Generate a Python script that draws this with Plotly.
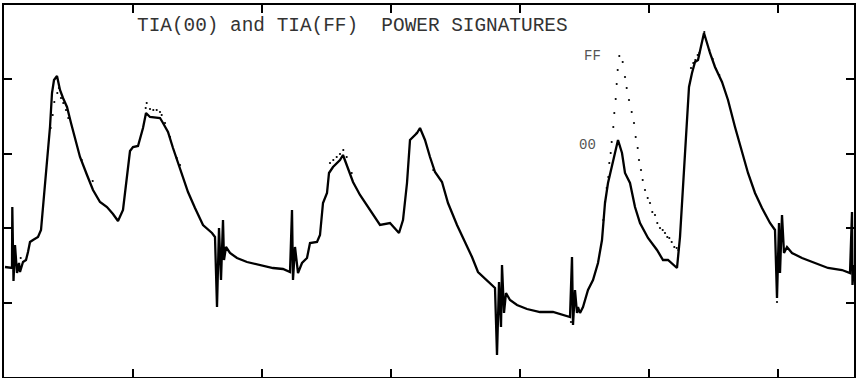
import plotly.graph_objects as go

# TIA(00) power trace: sample index vs level (arbitrary units)
tia00_x = [1, 8, 8.3, 9.5, 11, 13, 15, 16, 19, 22, 24, 26, 29, 34, 37, 39, 41, 44, 46, 48, 50, 53,
           56, 59, 63, 67, 71, 76, 83, 89, 96, 103, 109, 114, 119, 121, 124, 126, 129, 134, 139, 142,
           146, 156, 159, 164, 169, 174, 179, 184, 191, 199, 208, 211, 213, 215, 217, 219, 220, 222,
           226, 233, 243, 256, 269, 279, 286, 288, 289, 291, 294, 298, 303, 306, 313, 316, 319, 323,
           325, 329, 336, 339, 344, 349, 356, 366, 376, 386, 391, 395, 399, 403, 406, 409, 413, 416,
           421, 426, 431, 438, 444, 453, 459, 468, 474, 483, 491, 493, 495, 497, 498, 500, 502, 506,
           513, 523, 536, 549, 563, 566, 568, 569, 571, 573, 574, 576, 579, 584, 589, 594, 598, 601,
           604, 608, 611, 614, 618, 621, 626, 631, 636, 644, 653, 659, 664, 669, 673, 676, 679, 683,
           685, 688, 691, 694, 698, 700, 706, 711, 718, 724, 731, 738, 744, 751, 758, 766, 771, 773,
           775, 776, 778, 780, 783, 788, 798, 811, 824, 838, 846, 848, 848.5, 850]
tia00_y = [110, 109, 170, 96, 132, 104, 114, 105, 115, 117, 125, 135, 137, 140, 147, 170, 187, 220,
           250, 284, 297, 301, 287, 279, 270, 254, 239, 220, 202, 187, 175, 170, 163, 156, 167, 184,
           210, 226, 230, 231, 249, 264, 260, 259, 254, 245, 229, 214, 200, 185, 169, 152, 144, 140,
           70, 149, 97, 157, 117, 130, 124, 119, 115, 112, 109, 108, 105, 167, 97, 130, 104, 114, 119,
           134, 135, 142, 174, 184, 204, 210, 217, 222, 209, 195, 182, 167, 152, 154, 149, 144, 157,
           194, 237, 240, 244, 249, 237, 220, 205, 195, 174, 152, 139, 120, 105, 97, 89, 22, 95, 50,
           112, 64, 84, 77, 72, 68, 65, 65, 61, 60, 120, 52, 87, 64, 70, 64, 70, 87, 97, 114, 137,
           174, 194, 210, 224, 237, 224, 204, 194, 170, 154, 139, 127, 117, 117, 112, 109, 140, 190,
           247, 290, 304, 315, 317, 334, 344, 324, 310, 295, 277, 250, 224, 204, 184, 169, 154, 147,
           79, 154, 104, 162, 124, 130, 124, 119, 114, 109, 107, 104, 165, 92, 112]

# TIA(FF) power trace samples that stand apart from the TIA(00) trace
tiaff_x = [16.7, 46.7, 48.7, 50.3, 53.3, 55, 57, 59.3, 62, 64.3, 77.7, 88.7,
           141.7, 142.7, 146, 149.3, 152.7, 156, 157.7, 161, 166, 172.7, 176,
           326, 329.3, 332.7, 336, 339.3, 342.7, 347.7, 412.7, 429.3, 567,
           599.3, 601, 602.7, 604.3, 605.3, 606.7, 607.7, 609.3, 610.3, 611.7, 612.7, 613.7, 615.3,
           618.7, 621, 622.7, 625, 627.7, 630, 631.7, 633.7, 635, 637, 638.7, 641, 643.7, 646,
           648.3, 651, 653.3, 656, 658.7, 661, 663.3, 665.3, 667.7, 670.3, 672.7, 674.3,
           687, 689.3, 691.3, 693.7, 695.3, 700.3, 705.3, 708.7, 712, 715.3, 773]
tiaff_y = [119, 249, 262, 275, 284, 289, 279, 274, 267, 259, 217, 196,
           269, 274, 268, 267, 267, 265, 262, 254, 240, 219, 212,
           214, 217, 220, 223, 227, 220, 204, 244, 207, 55,
           157, 175, 189, 200, 214, 224, 235, 250, 264, 278, 293, 307, 321,
           315, 300, 289, 277, 265, 254, 240, 229, 217, 207, 197, 187, 179, 174,
           165, 162, 154, 149, 147, 144, 140, 139, 135, 130, 129, 127,
           309, 314, 317, 322, 324, 345, 327, 318, 308, 302, 75]

title_text = "TIA(00) and TIA(FF)  POWER SIGNATURES"
label_ff = "FF"
label_00 = "00"

fig = go.Figure()
fig.add_trace(go.Scatter(x=tia00_x, y=tia00_y, mode="lines",
                         line=dict(color="black", width=2.3), showlegend=False))
fig.add_trace(go.Scatter(x=tiaff_x, y=tiaff_y, mode="markers",
                         marker=dict(color="black", size=2.2), showlegend=False))

fig.add_annotation(x=131, y=351, xref="x", yref="y", text=title_text, showarrow=False,
                   xanchor="left", yanchor="middle",
                   font=dict(family="Liberation Mono", size=19.4, color="#333"))
fig.add_annotation(x=578, y=321, xref="x", yref="y", text=label_ff, showarrow=False,
                   xanchor="left", yanchor="middle",
                   font=dict(family="Liberation Mono", size=14, color="#555"))
fig.add_annotation(x=573, y=232, xref="x", yref="y", text=label_00, showarrow=False,
                   xanchor="left", yanchor="middle",
                   font=dict(family="Liberation Mono", size=14, color="#555"))

axis_common = dict(showgrid=False, zeroline=False, showline=True, linewidth=2,
                   linecolor="black", mirror="ticks", ticks="inside", ticklen=8,
                   tickwidth=1.5, tickcolor="black", showticklabels=False)
fig.update_xaxes(range=[0, 850], tick0=0, dtick=129, **axis_common)
fig.update_yaxes(range=[0, 372], tick0=0, dtick=74.4, **axis_common)

fig.update_layout(width=856, height=378, margin=dict(l=4, r=2, t=5, b=1),
                  plot_bgcolor="white", paper_bgcolor="white")

fig.write_html("out.html")
